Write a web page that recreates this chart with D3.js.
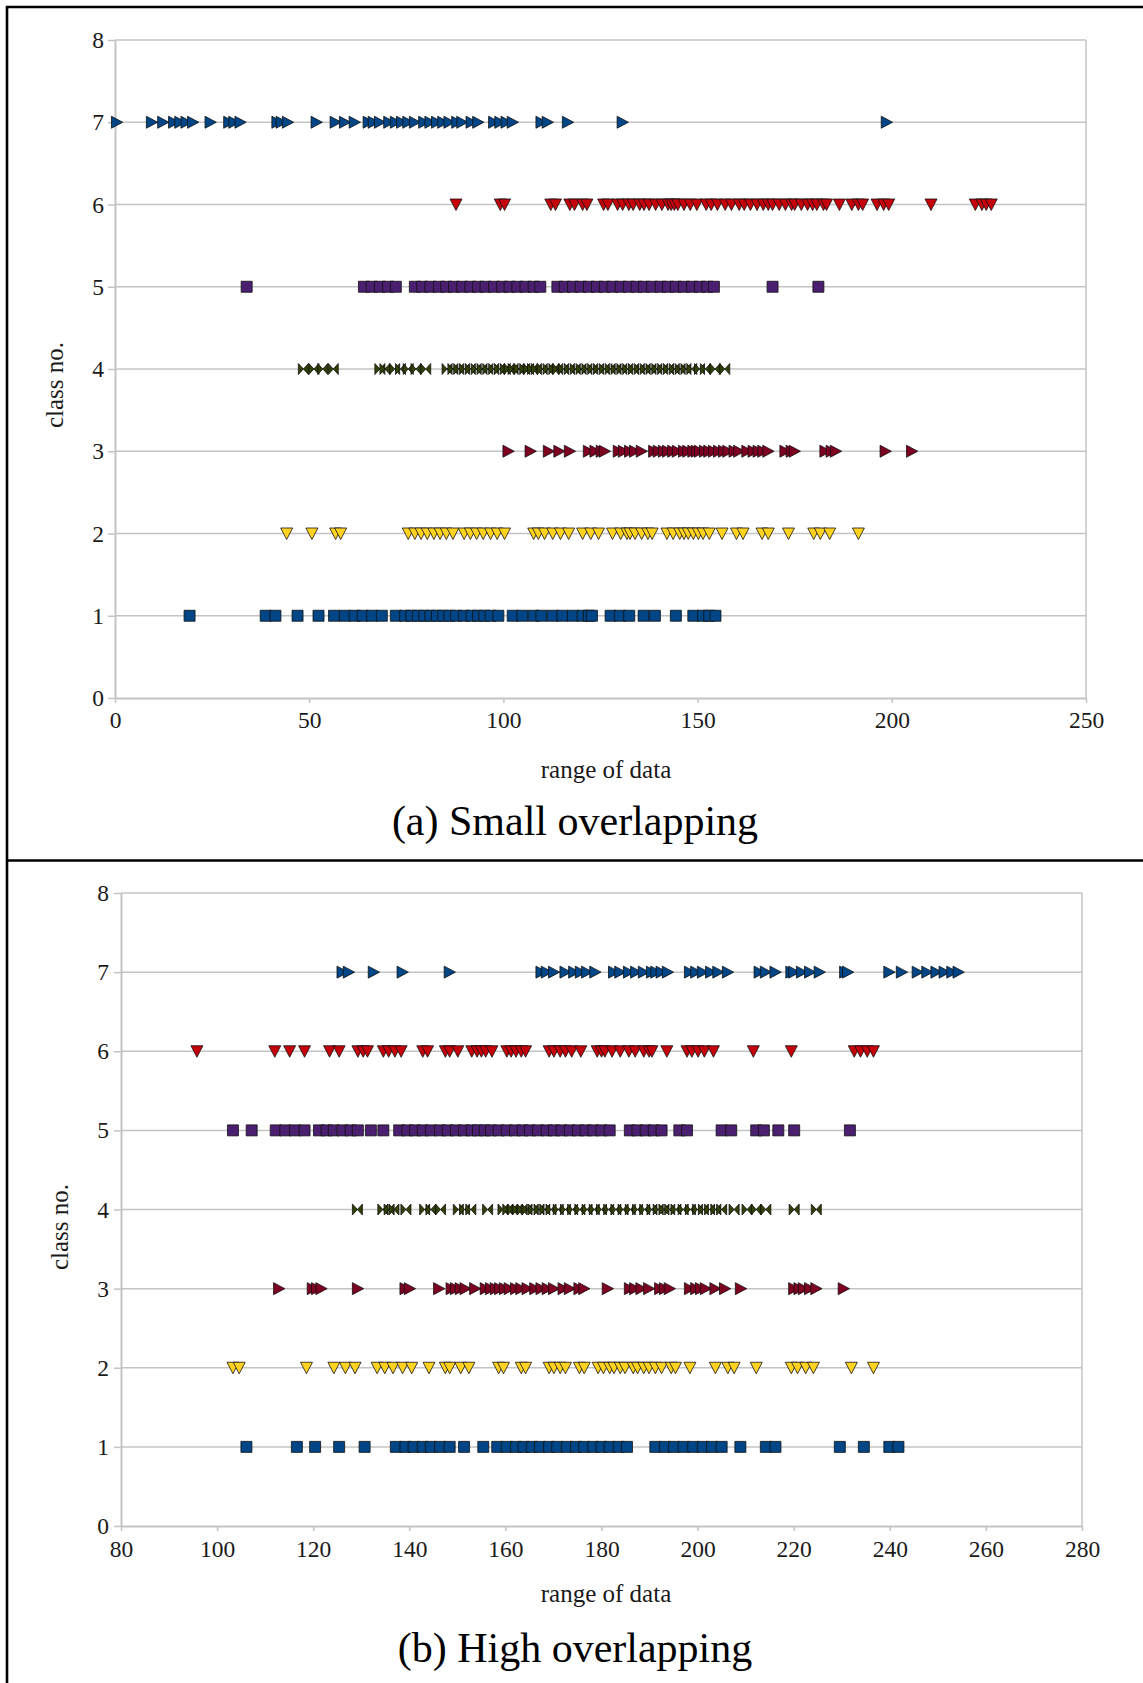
<!DOCTYPE html>
<html>
<head>
<meta charset="utf-8">
<script src="https://cdn.jsdelivr.net/npm/d3@7"></script>
<style>
  body { margin: 0; background: #fff; }
  svg { display: block; }
</style>
</head>
<body>
<script>
// ---- Panel (a): small overlapping, values per class ----
const smallC1 = [19.2, 38.8, 41.3, 47.0, 52.4, 56.4, 59.2, 61.7, 63.8, 66.2, 68.7, 72.3, 74.7, 76.3, 78.0, 79.6, 81.2, 82.9, 84.5, 86.1, 87.8, 89.9, 91.8, 93.5, 95.1, 96.7, 98.7, 102.4, 104.9, 107.8, 109.8, 112.7, 115.2, 117.9, 120.4, 122.0, 122.8, 127.6, 130.0, 132.4, 136.1, 139.0, 144.4, 148.9, 151.4, 153.0, 154.6];
const smallC2 = [44.2, 50.7, 56.8, 58.1, 75.5, 77.2, 78.8, 80.4, 82.1, 83.7, 85.3, 87.0, 89.9, 91.5, 93.1, 94.8, 96.7, 98.4, 100.3, 107.8, 109.0, 110.6, 112.7, 114.7, 116.8, 120.4, 122.5, 124.5, 128.1, 130.2, 131.8, 132.6, 133.9, 135.6, 137.2, 138.3, 142.1, 143.7, 145.4, 146.5, 147.6, 148.9, 150.2, 151.4, 153.0, 156.3, 160.0, 161.7, 166.6, 168.2, 173.4, 179.9, 181.6, 184.0, 191.4];
const smallC3 = [101.3, 107.0, 111.7, 114.4, 117.1, 122.0, 123.7, 125.3, 126.1, 129.7, 131.0, 132.6, 133.9, 135.6, 138.8, 140.0, 141.3, 142.4, 143.7, 144.9, 146.5, 147.6, 148.9, 149.8, 150.6, 151.9, 153.0, 154.2, 155.5, 156.8, 157.9, 159.5, 160.7, 162.8, 164.4, 165.7, 166.9, 168.2, 172.6, 174.2, 175.0, 182.9, 184.5, 185.6, 198.4, 205.2];
const smallC4 = [48.5, 51.2, 53.5, 56.2, 68.2, 69.5, 72.0, 73.5, 75.5, 77.5, 80.0, 85.5, 87.0, 88.5, 90.0, 91.5, 93.0, 94.5, 96.0, 97.5, 99.0, 100.5, 101.5, 102.5, 104.0, 105.5, 106.5, 107.5, 108.5, 110.0, 111.5, 113.0, 114.0, 115.5, 117.0, 118.5, 120.0, 121.5, 123.0, 124.5, 126.0, 127.5, 129.0, 130.5, 132.0, 133.5, 135.0, 136.5, 138.0, 139.5, 141.0, 142.5, 144.0, 145.5, 147.0, 148.5, 150.5, 152.0, 154.5, 157.0];
const smallC5 = [33.9, 64.1, 66.1, 68.2, 70.3, 72.3, 77.2, 79.1, 81.2, 83.4, 85.3, 87.3, 89.4, 91.5, 93.5, 95.4, 97.6, 99.7, 101.6, 103.6, 105.7, 107.8, 109.5, 113.9, 115.8, 117.9, 119.9, 122.0, 124.1, 126.1, 128.1, 130.2, 132.3, 134.3, 136.2, 138.3, 140.5, 142.4, 144.4, 146.5, 148.6, 150.6, 152.5, 154.2, 169.3, 181.1];
const smallC6 = [87.8, 99.2, 100.3, 112.2, 113.4, 117.1, 118.3, 120.4, 121.5, 125.8, 126.9, 129.4, 130.7, 132.3, 133.4, 135.1, 136.2, 137.5, 139.2, 140.8, 142.4, 143.2, 144.0, 144.9, 146.5, 148.1, 149.8, 152.2, 153.5, 155.1, 157.1, 158.7, 160.7, 162.0, 163.6, 165.3, 166.9, 168.2, 169.3, 171.0, 172.6, 174.2, 175.0, 176.7, 178.3, 179.6, 180.7, 182.4, 183.2, 186.5, 189.7, 191.4, 192.5, 196.2, 197.9, 199.2, 210.1, 221.5, 223.2, 224.3, 225.6];
const smallC7 = [0.5, 9.5, 12.4, 15.2, 16.8, 18.4, 20.1, 24.6, 29.4, 30.7, 32.3, 41.8, 42.9, 44.5, 51.9, 56.8, 59.2, 61.7, 65.3, 66.6, 68.2, 70.6, 72.3, 73.9, 75.5, 77.2, 79.6, 81.2, 82.9, 84.5, 86.1, 88.1, 89.4, 91.8, 93.5, 97.6, 99.2, 100.8, 102.4, 109.8, 111.4, 116.6, 130.7, 198.7];

// ---- Panel (b): high overlapping, values per class ----
const highC1 = [106.1, 116.6, 120.4, 125.4, 130.7, 137.2, 139.2, 140.9, 142.8, 144.5, 146.4, 148.4, 151.4, 155.4, 158.3, 160.3, 162.2, 163.8, 165.5, 167.2, 169.1, 170.8, 172.8, 174.7, 176.4, 178.3, 180.0, 181.7, 183.6, 185.3, 191.2, 193.2, 195.1, 197.1, 199.1, 201.1, 203.0, 205.0, 208.9, 214.2, 216.2, 229.6, 234.6, 239.9, 241.8];
const highC2 = [103.3, 104.6, 118.6, 124.3, 126.7, 128.7, 133.3, 134.9, 136.6, 138.6, 140.5, 144.1, 147.5, 148.4, 150.7, 152.4, 158.6, 159.6, 163.3, 164.2, 169.1, 170.1, 171.4, 172.5, 175.4, 176.4, 179.3, 180.4, 181.7, 182.6, 183.9, 184.9, 186.6, 187.5, 188.8, 189.9, 191.2, 192.5, 194.5, 195.4, 198.4, 203.7, 206.3, 207.6, 212.2, 219.5, 220.8, 222.5, 224.1, 232.0, 236.6];
const highC3 = [112.9, 119.9, 120.8, 121.7, 129.3, 139.2, 140.1, 146.2, 148.8, 149.7, 150.7, 151.7, 153.7, 155.9, 157.0, 158.0, 158.9, 159.9, 160.9, 162.2, 163.3, 164.6, 166.2, 167.5, 168.8, 170.1, 172.1, 173.4, 175.4, 176.4, 181.3, 185.9, 187.0, 188.3, 189.9, 192.2, 193.2, 194.2, 198.4, 199.7, 200.7, 201.7, 203.7, 205.7, 209.0, 220.1, 221.2, 222.1, 223.4, 224.7, 230.4];
const highC4 = [129.2, 134.5, 135.8, 136.8, 139.3, 143.2, 144.5, 146.5, 150.2, 151.5, 152.8, 156.3, 159.5, 160.5, 161.5, 162.5, 163.5, 164.5, 165.8, 167.0, 168.2, 169.5, 171.0, 172.5, 174.0, 175.5, 177.0, 178.5, 180.0, 181.5, 183.0, 184.5, 186.0, 187.5, 189.0, 190.5, 191.8, 193.0, 194.2, 195.5, 197.0, 198.5, 200.0, 201.2, 202.5, 203.8, 205.0, 207.6, 210.3, 212.2, 214.2, 220.1, 224.7];
const highC5 = [103.3, 107.2, 112.2, 114.2, 116.2, 118.2, 121.2, 122.8, 124.3, 126.1, 127.8, 129.3, 132.0, 134.6, 137.9, 139.6, 141.2, 142.8, 144.5, 146.4, 148.0, 149.7, 151.4, 153.0, 154.3, 155.7, 157.0, 158.6, 160.3, 162.0, 163.6, 165.1, 166.8, 168.6, 170.1, 171.7, 173.4, 175.1, 176.7, 178.3, 180.0, 181.7, 185.9, 187.5, 189.2, 190.9, 192.5, 196.2, 197.8, 205.0, 207.0, 212.2, 213.8, 216.8, 220.1, 231.7];
const highC6 = [95.8, 112.0, 115.1, 118.2, 123.4, 125.4, 129.3, 130.4, 131.3, 134.6, 135.7, 137.0, 138.3, 142.8, 143.8, 147.5, 148.4, 150.1, 153.0, 154.1, 155.0, 155.9, 157.2, 160.3, 161.2, 162.2, 163.3, 164.2, 169.1, 170.1, 171.4, 172.5, 173.8, 175.7, 179.1, 180.0, 180.7, 182.2, 183.9, 185.7, 187.0, 188.8, 189.9, 190.5, 193.6, 197.8, 198.8, 200.1, 201.4, 203.3, 211.6, 219.5, 232.6, 233.9, 235.3, 236.6];
const highC7 = [126.1, 127.4, 132.6, 138.6, 148.4, 167.5, 168.6, 170.1, 172.5, 174.3, 175.7, 177.0, 178.7, 182.6, 183.9, 185.7, 187.2, 188.8, 190.5, 191.4, 192.5, 193.8, 198.4, 199.7, 201.1, 202.8, 204.3, 206.3, 212.9, 214.2, 216.2, 219.5, 220.1, 221.7, 223.4, 225.4, 230.7, 231.3, 239.9, 242.5, 245.8, 247.8, 249.7, 251.4, 253.0, 254.3];

// ---- Axis tick values and text ----
const classTicks = [0, 1, 2, 3, 4, 5, 6, 7, 8];
const smallXTicks = [0, 50, 100, 150, 200, 250];
const highXTicks = [80, 100, 120, 140, 160, 180, 200, 220, 240, 260, 280];
const yLabel = "class no.";
const xLabel = "range of data";
const titleSmall = "(a) Small overlapping";
const titleHigh = "(b) High overlapping";

// Marker styling per class (1..7)
const classColors = ["#004586", "#ffd320", "#7e0021", "#314004", "#4b1f6f", "#c5000b", "#004586"];
const classShapes = ["square", "down", "right", "bowtie", "square", "down", "right"];

const FONT = "'Liberation Serif', 'Times New Roman', serif";
const GRID = "#c4c4c4";

const svg = d3.select("body").append("svg")
  .attr("width", 1143).attr("height", 1683);

function markerPath(kind) {
  switch (kind) {
    case "square": return "M-5.5,-5.5H5.5V5.5H-5.5Z";
    case "down": return "M-6,-5.5L6,-5.5L0,6Z";
    case "right": return "M-5.5,-6L5.8,0L-5.5,6Z";
    case "bowtie": return "M-5,-5.5L0,0L-5,5.5Z M5,-5.5L0,0L5,5.5Z";
  }
}

function drawPanel(cfg) {
  const x = d3.scaleLinear().domain(cfg.xDomain).range(cfg.xRange);
  const y = d3.scaleLinear().domain([0, 8]).range(cfg.yRange);
  const g = svg.append("g");

  // horizontal gridlines
  g.append("g").selectAll("line").data(classTicks.filter(d => d > 0)).join("line")
    .attr("x1", cfg.xRange[0]).attr("x2", cfg.xRange[1])
    .attr("y1", d => y(d)).attr("y2", d => y(d))
    .attr("stroke", GRID).attr("stroke-width", 1.5);

  // right edge of plot area
  g.append("line")
    .attr("x1", cfg.xRange[1]).attr("x2", cfg.xRange[1])
    .attr("y1", cfg.yRange[0]).attr("y2", cfg.yRange[1])
    .attr("stroke", GRID).attr("stroke-width", 1.5);

  // y axis
  const ya = g.append("g").attr("transform", `translate(${cfg.xRange[0]},0)`)
    .call(d3.axisLeft(y).tickValues(classTicks).tickSize(7).tickPadding(cfg.yPad).tickSizeOuter(0));
  // x axis
  const xa = g.append("g").attr("transform", `translate(0,${cfg.yRange[0]})`)
    .call(d3.axisBottom(x).tickValues(cfg.xTicks).tickSize(5).tickPadding(cfg.xPad).tickSizeOuter(0).tickFormat(d3.format("d")));
  [ya, xa].forEach(a => {
    a.selectAll("path.domain").attr("stroke", GRID).attr("stroke-width", 2);
    a.selectAll(".tick line").attr("stroke", GRID).attr("stroke-width", 1.5);
    a.selectAll("text").attr("font-family", FONT).attr("font-size", 23.5).attr("fill", "#1a1a1a");
  });

  // markers
  cfg.series.forEach((vals, i) => {
    g.append("g").selectAll("path").data(vals).join("path")
      .attr("d", markerPath(classShapes[i]))
      .attr("transform", d => `translate(${x(d)},${y(i + 1)})`)
      .attr("fill", classColors[i])
      .attr("stroke", "#111").attr("stroke-width", 0.8)
      .attr("stroke-linejoin", "miter");
  });

  // axis titles
  g.append("text")
    .attr("transform", `translate(${cfg.yLabelX},${cfg.yLabelY}) rotate(-90)`)
    .attr("text-anchor", "middle")
    .attr("font-family", FONT).attr("font-size", 25).attr("fill", "#1a1a1a")
    .text(yLabel);
  g.append("text")
    .attr("x", 606).attr("y", cfg.xLabelY)
    .attr("text-anchor", "middle")
    .attr("font-family", FONT).attr("font-size", 25).attr("fill", "#1a1a1a")
    .text(xLabel);
  // panel caption
  g.append("text")
    .attr("x", 575).attr("y", cfg.titleY)
    .attr("text-anchor", "middle")
    .attr("font-family", FONT).attr("font-size", 42).attr("fill", "#000")
    .text(cfg.title);
}

drawPanel({
  xDomain: [0, 250], xRange: [115, 1086], yRange: [698, 40],
  xTicks: smallXTicks, yPad: 4, xPad: 8,
  series: [smallC1, smallC2, smallC3, smallC4, smallC5, smallC6, smallC7],
  yLabelX: 63, yLabelY: 385, xLabelY: 778, titleY: 835, title: titleSmall
});

drawPanel({
  xDomain: [80, 280], xRange: [121, 1082], yRange: [1526, 893],
  xTicks: highXTicks, yPad: 5, xPad: 9,
  series: [highC1, highC2, highC3, highC4, highC5, highC6, highC7],
  yLabelX: 68, yLabelY: 1227, xLabelY: 1602, titleY: 1662, title: titleHigh
});

// frame: outer left/top edges and the divider between panels
const frame = svg.append("g").attr("stroke", "#000").attr("stroke-width", 2.6);
frame.append("line").attr("x1", 7).attr("x2", 7).attr("y1", 6).attr("y2", 1683);
frame.append("line").attr("x1", 6).attr("x2", 1143).attr("y1", 7).attr("y2", 7);
frame.append("line").attr("x1", 6).attr("x2", 1143).attr("y1", 860.5).attr("y2", 860.5);
</script>
</body>
</html>
